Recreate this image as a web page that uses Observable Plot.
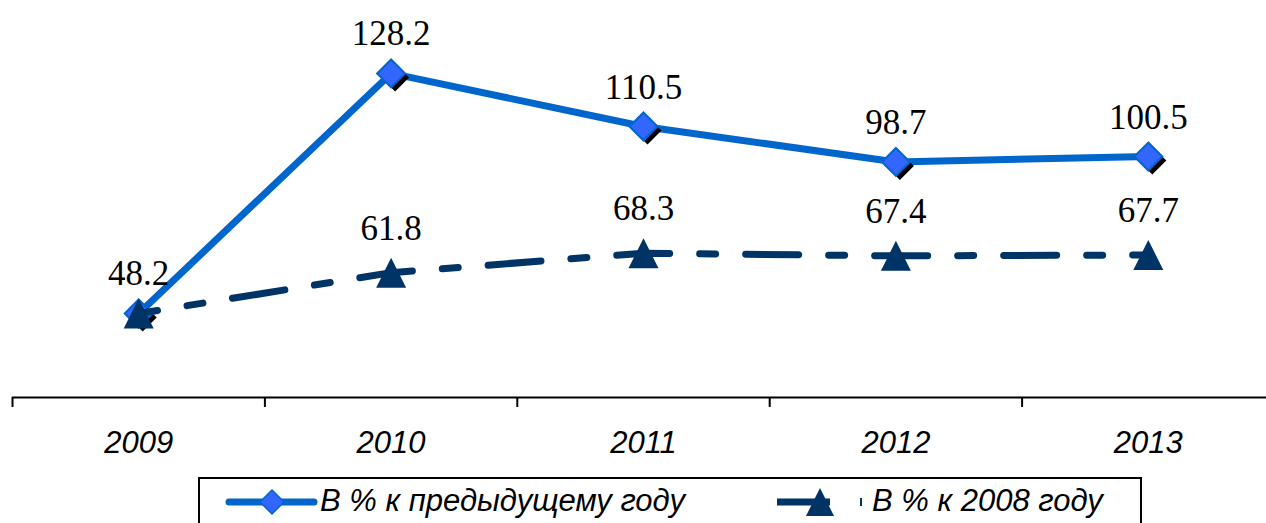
<!DOCTYPE html>
<html><head><meta charset="utf-8">
<script src="https://cdn.jsdelivr.net/npm/d3@7"></script>
<script src="https://cdn.jsdelivr.net/npm/@observablehq/plot@0.6"></script>
<style>
body{margin:0;background:#fff;width:1266px;height:523px;overflow:hidden;position:relative}
#chart{position:absolute;left:0;top:0}
#legend{position:absolute;left:198px;top:477px;width:944px;height:60px;border:2px solid #000;box-sizing:border-box;background:#fff}
#legend .t{position:absolute;top:4px;font:italic 31px "Liberation Sans",Arial,sans-serif;color:#000;white-space:nowrap;line-height:36px}
#legend svg{position:absolute;top:0;left:0}
</style></head><body>
<div id="chart"></div>
<div id="legend"></div>
<script>
const years = ["2009", "2010", "2011", "2012", "2013"];
const prevYear = [48.2, 128.2, 110.5, 98.7, 100.5];
const vs2008 = [48.2, 61.8, 68.3, 67.4, 67.7];
const seriesNames = ["В % к предыдущему году", "В % к 2008 году"];

const blueLine = "#0066CC", blueFill = "#3366FF", navy = "#003366";
const rows = years.map((y, i) => ({pos: i + 0.5, year: y, a: prevYear[i], b: vs2008[i]}));

const diamondSym = {draw(ctx, size) { const r = Math.sqrt(size / Math.PI); ctx.moveTo(0, -r); ctx.lineTo(r, 0); ctx.lineTo(0, r); ctx.lineTo(-r, 0); ctx.closePath(); }};
const triSym = {draw(ctx, size) { const r = Math.sqrt(size / Math.PI); ctx.moveTo(0, -r); ctx.lineTo(r, r); ctx.lineTo(-r, r); ctx.closePath(); }};

const yMin = 20.2;
const fmt = d3.format(".1f");
const chart = Plot.plot({
  width: 1266, height: 470,
  marginLeft: 12, marginRight: 0, marginTop: 0, marginBottom: 73,
  x: {type: "linear", domain: [0, years.length], range: [12, 1274]},
  y: {domain: [yMin, 152.5], range: [397, 0], axis: null},
  marks: [
    Plot.ruleY([yMin], {stroke: "#000", strokeWidth: 2}),
    Plot.axisX({ticks: d3.range(0, years.length + 1), tickSize: 10, tickFormat: () => "", strokeWidth: 2, stroke: "#000", label: null}),
    Plot.axisX({ticks: rows.map(d => d.pos), tickSize: 0, tickPadding: 33, tickFormat: (d) => years[Math.floor(d)], label: null,
      fontSize: 31, fontStyle: "italic", fontFamily: "Liberation Sans, Arial, sans-serif", fill: "#000"}),
    Plot.line(rows, {x: "pos", y: "a", stroke: blueLine, strokeWidth: 7, strokeLinejoin: "round"}),
    Plot.dot(rows, {x: "pos", y: "a", symbol: diamondSym, r: 14, fill: "#000", dx: 4, dy: 4}),
    Plot.dot(rows, {x: "pos", y: "a", symbol: diamondSym, r: 14, fill: blueFill, stroke: blueLine, strokeWidth: 2}),
    Plot.line(rows, {x: "pos", y: "b", stroke: navy, strokeWidth: 7, strokeDasharray: "53,30,16,30", strokeDashoffset: 34}),
    Plot.dot(rows, {x: "pos", y: "b", symbol: triSym, r: 15, fill: navy}),
    Plot.text(rows, {x: "pos", y: "a", text: d => fmt(d.a), dy: -28, lineAnchor: "bottom", fontSize: 35, fontFamily: "Liberation Serif, Times New Roman, serif", fill: "#000"}),
    Plot.text(rows.filter(d => d.b !== d.a), {x: "pos", y: "b", text: d => fmt(d.b), dy: -33, lineAnchor: "bottom", fontSize: 35, fontFamily: "Liberation Serif, Times New Roman, serif", fill: "#000"})
  ]
});
document.getElementById("chart").appendChild(chart);

const legend = document.getElementById("legend");
legend.innerHTML = `
<svg width="944" height="60">
  <line x1="29" x2="114" y1="23" y2="23" stroke="${blueLine}" stroke-width="7" stroke-linecap="round"/>
  <path d="M72,11 L84,23 L72,35 L60,23 Z" fill="${blueFill}" stroke="${blueLine}" stroke-width="1.5"/>
  <line x1="577" x2="630" y1="23" y2="23" stroke="${navy}" stroke-width="7"/>
  <path d="M620,9 L634,37 L606,37 Z" fill="${navy}"/>
  <line x1="661" x2="661" y1="19" y2="27" stroke="${navy}" stroke-width="2"/>
</svg>
<div class="t" style="left:120px">${seriesNames[0]}</div>
<div class="t" style="left:672px">${seriesNames[1]}</div>`;
</script>
</body></html>
